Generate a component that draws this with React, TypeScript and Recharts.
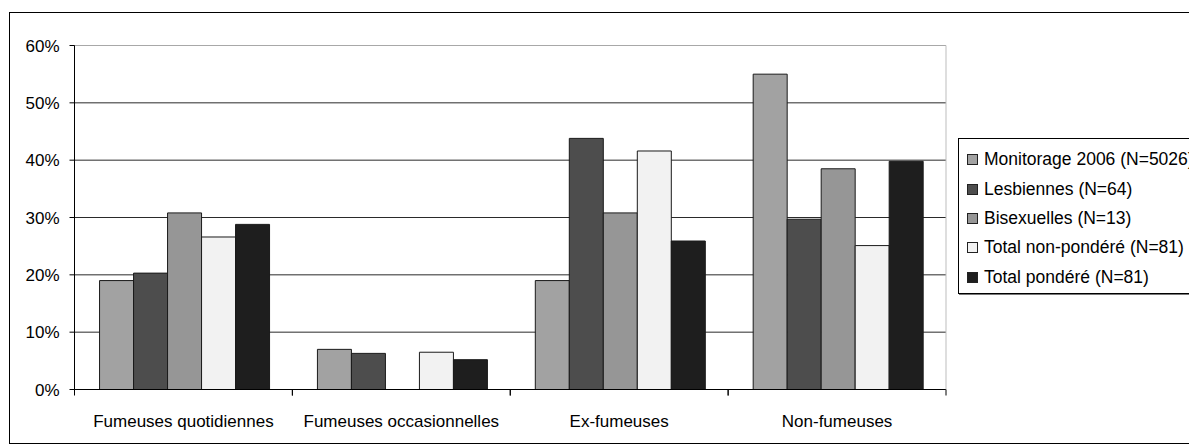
import React from "react";
import {
  BarChart,
  Bar,
  XAxis,
  YAxis,
  CartesianGrid,
  ReferenceLine,
} from "recharts";

const categories = [
  "Fumeuses quotidiennes",
  "Fumeuses occasionnelles",
  "Ex-fumeuses",
  "Non-fumeuses",
];

const monitorage = [19, 7, 19, 55];
const lesbiennes = [20.3, 6.3, 43.8, 29.7];
const bisexuelles = [30.8, 0, 30.8, 38.5];
const totalNonPondere = [26.6, 6.5, 41.6, 25.1];
const totalPondere = [28.8, 5.2, 25.9, 39.8];

const yTicks = [0, 10, 20, 30, 40, 50, 60];

const series = [
  { key: "monitorage", name: "Monitorage 2006 (N=5026)", color: "#a2a2a2", values: monitorage },
  { key: "lesbiennes", name: "Lesbiennes (N=64)", color: "#4d4d4d", values: lesbiennes },
  { key: "bisexuelles", name: "Bisexuelles (N=13)", color: "#969696", values: bisexuelles },
  { key: "nonPondere", name: "Total non-pondéré (N=81)", color: "#f2f2f2", values: totalNonPondere },
  { key: "pondere", name: "Total pondéré (N=81)", color: "#1e1e1e", values: totalPondere },
];

const data = categories.map((name, i) => {
  const row: Record<string, string | number> = { name };
  series.forEach((s) => {
    row[s.key] = s.values[i];
  });
  return row;
});

const FONT = "'Liberation Sans', Arial, sans-serif";

// category label plus the boundary tick marks Excel draws between groups
function CategoryTick(props: any) {
  const { x, y, payload } = props;
  const half = payload && payload.offset ? payload.offset : 109;
  return (
    <g>
      <line x1={x - half} y1={y} x2={x - half} y2={y + 6} stroke="#000" />
      <line x1={x + half} y1={y} x2={x + half} y2={y + 6} stroke="#000" />
      <text
        x={x}
        y={y + 37}
        textAnchor="middle"
        fontSize={17}
        fontFamily={FONT}
        fill="#000"
      >
        {payload.value}
      </text>
    </g>
  );
}

function LegendBox() {
  return (
    <div
      style={{
        position: "absolute",
        left: 958,
        top: 138,
        width: 260,
        height: 156,
        border: "1px solid #000",
        boxShadow: "1px 1px 0 #777",
        background: "#fff",
        fontFamily: FONT,
        fontSize: 17.5,
        paddingTop: 6,
        boxSizing: "border-box",
      }}
    >
      {series.map((s) => (
        <div
          key={s.key}
          style={{
            display: "flex",
            alignItems: "center",
            height: 29.4,
            paddingLeft: 8,
            whiteSpace: "nowrap",
          }}
        >
          <span
            style={{
              display: "inline-block",
              width: 9,
              height: 9,
              background: s.color,
              border: "1px solid #222",
              marginRight: 6,
            }}
          />
          <span>{s.name}</span>
        </div>
      ))}
    </div>
  );
}

export default function App() {
  return (
    <div
      style={{
        position: "fixed",
        left: 0,
        top: 0,
        width: 1189,
        height: 446,
        background: "#fff",
        overflow: "hidden",
      }}
    >
      <div
        style={{
          position: "absolute",
          left: 9,
          top: 12,
          width: 1200,
          height: 432,
          border: "1px solid #000",
          boxSizing: "border-box",
        }}
      />
      <div style={{ position: "absolute", left: 0, top: 0 }}>
        <BarChart
          width={1189}
          height={446}
          data={data}
          margin={{ top: 45.5, right: 242, left: 10.5, bottom: 0 }}
          barCategoryGap="11.5%"
          barGap={0}
        >
          <CartesianGrid vertical={false} stroke="#2a2a2a" />
          <XAxis
            dataKey="name"
            height={56.5}
            axisLine={{ stroke: "#000" }}
            tickLine={false}
            tickSize={0}
            tickMargin={0}
            interval={0}
            tick={<CategoryTick />}
          />
          <YAxis
            domain={[0, 60]}
            ticks={yTicks}
            width={64}
            tickSize={5}
            tickMargin={10}
            axisLine={{ stroke: "#000" }}
            tickLine={{ stroke: "#000" }}
            tickFormatter={(v) => `${v}%`}
            tick={{ fontSize: 17, fontFamily: FONT, fill: "#000" }}
          />
          <YAxis
            yAxisId="r"
            orientation="right"
            domain={[0, 60]}
            width={1}
            tick={false}
            tickLine={false}
            axisLine={{ stroke: "#bdbdbd" }}
          />
          <ReferenceLine y={60} stroke="#a8a8a8" />
          {series.map((s) => (
            <Bar
              key={s.key}
              dataKey={s.key}
              name={s.name}
              fill={s.color}
              stroke="#1a1a1a"
              strokeWidth={1}
              isAnimationActive={false}
            />
          ))}
        </BarChart>
      </div>
      <LegendBox />
    </div>
  );
}
